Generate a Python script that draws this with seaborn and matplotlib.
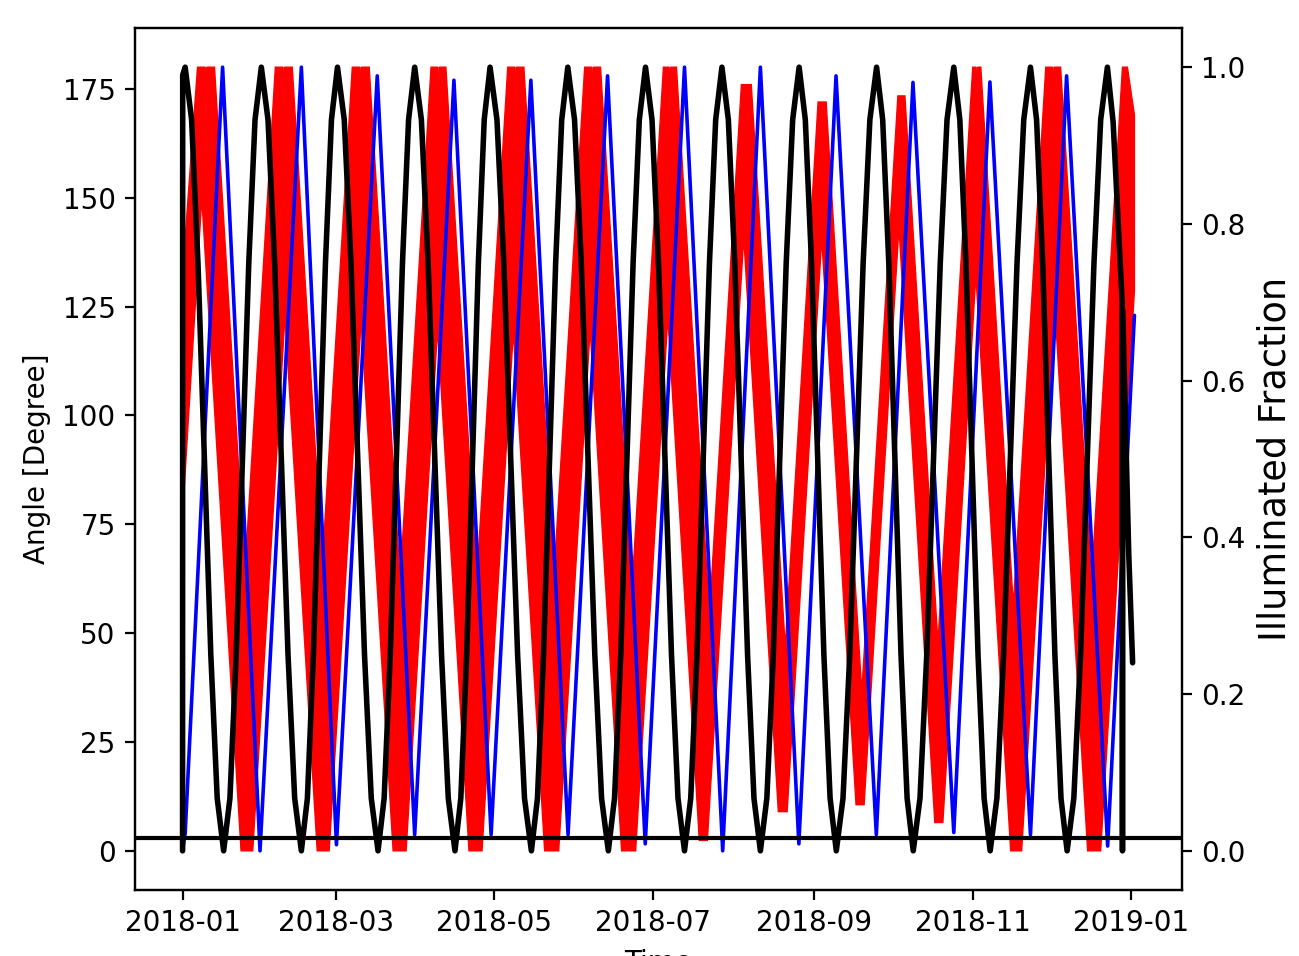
import numpy as np
import pandas as pd
import matplotlib
matplotlib.use("Agg")
import matplotlib.pyplot as plt
import matplotlib.dates as mdates
import seaborn as sns

sns.set_style("ticks")
plt.rcParams["font.family"] = ["DejaVu Sans"]
plt.rcParams["text.color"] = "k"
plt.rcParams["axes.labelcolor"] = "k"

START = pd.Timestamp("2018-01-01")

# Illuminated fraction of the Moon (right axis): days since START, value
frac_day = [0.0, 0.05, 1.0,
            3.47, 5.93, 8.4, 10.87, 13.33, 15.8,
            18.22, 20.63, 23.05, 25.47, 27.88, 30.3,
            32.87, 35.43, 38.0, 40.57, 43.13, 45.7,
            48.02, 50.33, 52.65, 54.97, 57.28, 59.6,
            62.2, 64.8, 67.4, 70.0, 72.6, 75.2,
            77.55, 79.9, 82.25, 84.6, 86.95, 89.3,
            91.88, 94.47, 97.05, 99.63, 102.22, 104.8,
            107.05, 109.3, 111.55, 113.8, 116.05, 118.3,
            120.95, 123.6, 126.25, 128.9, 131.55, 134.2,
            136.53, 138.87, 141.2, 143.53, 145.87, 148.2,
            150.8, 153.4, 156.0, 158.6, 161.2, 163.8,
            166.18, 168.57, 170.95, 173.33, 175.72, 178.1,
            180.6, 183.1, 185.6, 188.1, 190.6, 193.1,
            195.5, 197.9, 200.3, 202.7, 205.1, 207.5,
            209.97, 212.43, 214.9, 217.37, 219.83, 222.3,
            224.78, 227.27, 229.75, 232.23, 234.72, 237.2,
            239.58, 241.97, 244.35, 246.73, 249.12, 251.5,
            254.08, 256.67, 259.25, 261.83, 264.42, 267.0,
            269.35, 271.7, 274.05, 276.4, 278.75, 281.1,
            283.7, 286.3, 288.9, 291.5, 294.1, 296.7,
            299.03, 301.37, 303.7, 306.03, 308.37, 310.7,
            313.28, 315.87, 318.45, 321.03, 323.62, 326.2,
            328.55, 330.9, 333.25, 335.6, 337.95, 340.3,
            342.88, 345.47, 348.05, 350.63, 353.22, 355.8,
            358.0, 360.0, 361.5, 361.6, 361.7, 364.0, 365.5]
frac_val = [0.0, 0.99, 1.0,
            0.933, 0.75, 0.5, 0.25, 0.067, 0.0,
            0.067, 0.25, 0.5, 0.75, 0.933, 1.0,
            0.933, 0.75, 0.5, 0.25, 0.067, 0.0,
            0.067, 0.25, 0.5, 0.75, 0.933, 1.0,
            0.933, 0.75, 0.5, 0.25, 0.067, 0.0,
            0.067, 0.25, 0.5, 0.75, 0.933, 1.0,
            0.933, 0.75, 0.5, 0.25, 0.067, 0.0,
            0.067, 0.25, 0.5, 0.75, 0.933, 1.0,
            0.933, 0.75, 0.5, 0.25, 0.067, 0.0,
            0.067, 0.25, 0.5, 0.75, 0.933, 1.0,
            0.933, 0.75, 0.5, 0.25, 0.067, 0.0,
            0.067, 0.25, 0.5, 0.75, 0.933, 1.0,
            0.933, 0.75, 0.5, 0.25, 0.067, 0.0,
            0.067, 0.25, 0.5, 0.75, 0.933, 1.0,
            0.933, 0.75, 0.5, 0.25, 0.067, 0.0,
            0.067, 0.25, 0.5, 0.75, 0.933, 1.0,
            0.933, 0.75, 0.5, 0.25, 0.067, 0.0,
            0.067, 0.25, 0.5, 0.75, 0.933, 1.0,
            0.933, 0.75, 0.5, 0.25, 0.067, 0.0,
            0.067, 0.25, 0.5, 0.75, 0.933, 1.0,
            0.933, 0.75, 0.5, 0.25, 0.067, 0.0,
            0.067, 0.25, 0.5, 0.75, 0.933, 1.0,
            0.933, 0.75, 0.5, 0.25, 0.067, 0.0,
            0.067, 0.25, 0.5, 0.75, 0.933, 1.0,
            0.93, 0.8, 0.7, 0.0, 0.69, 0.38, 0.24]

# Sun-Moon phase angle in degrees (left axis)
phase_day = [0.0, 1.0, 15.4, 29.8, 45.7, 59.2, 74.9, 89.3, 104.4, 118.7,
             134.0, 148.3, 163.5, 178.0, 193.1, 207.8, 222.3, 237.1, 251.4,
             266.9, 281.0, 296.7, 310.6, 326.2, 340.1, 355.9, 361.5, 361.6,
             361.7, 366.2]
phase_deg = [0.0, 4.0, 180.0, 0.0, 180.0, 1.4, 178.0, 3.7, 177.0, 3.7,
             177.0, 3.7, 178.0, 1.6, 180.0, 0.0, 180.0, 1.6, 178.0,
             3.7, 176.5, 4.2, 176.6, 3.7, 178.0, 1.1, 68.0, 0.0,
             70.0, 123.0]

# Second angle (left axis): upper and lower envelope of its daily swing
swing_top_day = [0.0, 0.3, 5.76, 8.7, 9.0, 9.3, 12.28, 24.0,
                 35.7, 38.65, 38.95, 39.25, 42.2, 53.75,
                 65.3, 68.25, 68.55, 68.85, 71.8, 83.7,
                 95.6, 98.15, 98.45, 98.75, 101.3, 113.2,
                 125.1, 127.9, 128.2, 128.5, 131.3, 143.0,
                 154.7, 157.45, 157.75, 158.05, 160.8, 172.9,
                 185.0, 187.2, 187.5, 187.8, 190.0, 202.7,
                 215.0, 218.8, 231.85,
                 244.5, 247.6, 261.3,
                 275.2, 277.9, 290.6,
                 304.0, 305.25, 305.55, 305.85, 307.1, 319.6,
                 332.1, 334.65, 334.95, 335.25, 337.8, 349.7,
                 361.6, 363.5, 366.2]
swing_top_deg = [0.0, 135.0, 180.0, 180.0, 168.0, 180.0, 180.0, 64.1,
                 180.0, 180.0, 168.0, 180.0, 180.0, 65.7,
                 180.0, 180.0, 168.0, 180.0, 180.0, 62.2,
                 180.0, 180.0, 168.0, 180.0, 180.0, 62.2,
                 180.0, 180.0, 168.0, 180.0, 180.0, 64.2,
                 180.0, 180.0, 168.0, 180.0, 180.0, 60.2,
                 180.0, 180.0, 170.0, 180.0, 180.0, 54.3,
                 176.0, 176.0, 46.8,
                 172.0, 172.0, 36.4,
                 173.4, 173.4, 47.7,
                 180.0, 180.0, 170.0, 180.0, 180.0, 56.3,
                 180.0, 180.0, 168.0, 180.0, 180.0, 62.2,
                 180.0, 180.0, 169.0]
swing_bot_day = [0.3, 7.4, 22.5, 27.0, 39.4, 51.8, 56.4, 68.7, 81.0, 86.0,
                 98.1, 110.2, 115.2, 127.25, 139.3, 144.7, 156.8, 168.9,
                 174.3, 186.7, 198.8, 201.9, 215.9, 229.2, 232.6, 245.9,
                 259.1, 262.2, 275.6, 289.4, 292.5, 305.2, 318.6, 322.8,
                 335.5, 348.2, 353.2, 366.2]
swing_bot_deg = [80.0, 150.0, 0.0, 0.0, 122.8, 0.0, 0.0, 121.8, 0.0, 0.0,
                 119.8, 0.0, 0.0, 119.3, 0.0, 0.0, 119.8, 0.0,
                 0.0, 122.6, 2.4, 2.4, 141.0, 9.0, 9.0, 140.7,
                 10.6, 10.6, 143.3, 6.5, 6.5, 132.2, 0.0, 0.0,
                 125.7, 0.0, 0.0, 128.7]

threshold_deg = 3.0
xlim_days = (-18.3, 384.5)


def as_dates(days):
    return (START + pd.to_timedelta(np.asarray(days), unit="D")).to_numpy()


W, H, DPI = 1299, 956, 200
fig = plt.figure(figsize=(W / DPI, H / DPI), dpi=DPI)
ax = fig.add_axes([135 / W, 1 - 890 / H, 1047 / W, 862 / H])

band_x = np.concatenate([as_dates(swing_top_day), as_dates(swing_bot_day)[::-1]])
band_y = np.concatenate([swing_top_deg, swing_bot_deg[::-1]])
ax.fill(band_x, band_y, color="r", lw=0.5, ec="r", zorder=2)

sns.lineplot(x=as_dates(phase_day), y=phase_deg, ax=ax, color="b",
             lw=1.3, estimator=None, sort=False, zorder=3)

ax.axhline(threshold_deg, color="k", lw=1.5, zorder=5)

ax.set_ylim(-9, 189)
ax.set_xlim(as_dates([xlim_days[0]])[0], as_dates([xlim_days[1]])[0])
ax.xaxis.set_major_locator(mdates.MonthLocator(bymonth=[1, 3, 5, 7, 9, 11]))
ax.xaxis.set_major_formatter(mdates.DateFormatter("%Y-%m"))
ax.set_yticks([0, 25, 50, 75, 100, 125, 150, 175])
ax.set_xlabel("Time", fontsize=10)
ax.set_ylabel("Angle [Degree]", fontsize=10)

ax2 = ax.twinx()
sns.lineplot(x=as_dates(frac_day), y=frac_val, ax=ax2, color="k",
             lw=2.0, estimator=None, sort=False)
ax2.set_ylim(-0.05, 1.05)
ax2.set_yticks([0.0, 0.2, 0.4, 0.6, 0.8, 1.0])
ax2.set_ylabel("Illuminated Fraction", fontsize=13.2)

for a in (ax, ax2):
    a.tick_params(labelsize=10, length=3.5, width=0.8, colors="k")
    for s in a.spines.values():
        s.set_color("k")
        s.set_linewidth(0.8)

fig.savefig("out.png", dpi=DPI)
